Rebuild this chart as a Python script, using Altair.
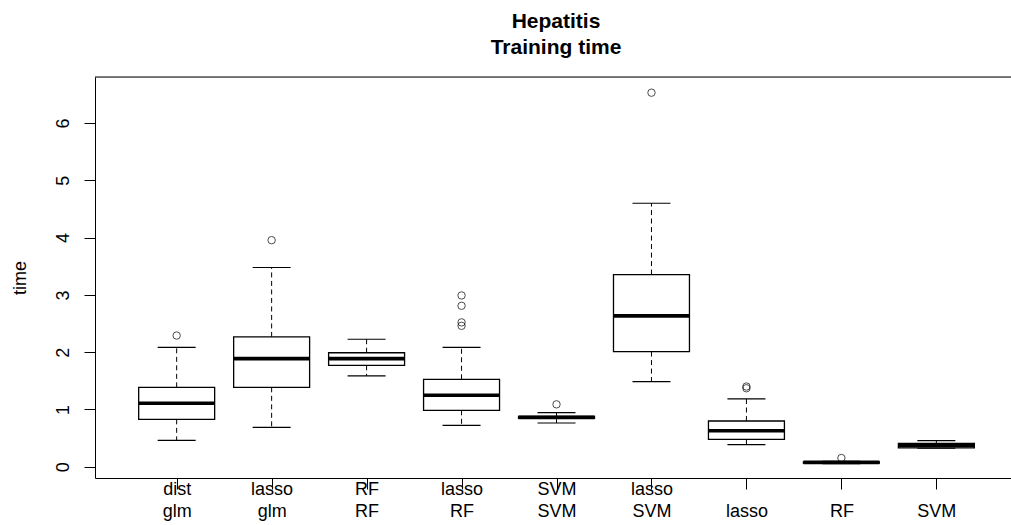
import altair as alt
import pandas as pd

# Box-plot summary of training time per method (Hepatitis data)
label_top = ["dist", "lasso", "RF", "lasso", "SVM", "lasso", "", "", ""]
label_bottom = ["glm", "glm", "RF", "RF", "SVM", "SVM", "lasso", "RF", "SVM"]

lower_whisker = [0.46, 0.687, 1.585, 0.723, 0.763, 1.486, 0.384, 0.055, 0.325]
q1 = [0.827, 1.386, 1.77, 0.985, 0.845, 2.01, 0.477, 0.065, 0.33]
median = [1.107, 1.887, 1.887, 1.247, 0.862, 2.633, 0.629, 0.075, 0.372]
q3 = [1.386, 2.266, 1.99, 1.526, 0.88, 3.355, 0.798, 0.085, 0.405]
upper_whisker = [2.085, 3.478, 2.225, 2.085, 0.944, 4.60, 1.183, 0.095, 0.455]

outlier_group = [1, 2, 4, 4, 4, 4, 5, 6, 7, 7, 8]
outlier_value = [2.29, 3.955, 2.99, 2.81, 2.52, 2.46, 1.089, 6.53, 1.37, 1.40, 0.152]

PLOT_W = 916
PLOT_H = 401
BOX_HALF = 0.4
CAP_HALF = 0.2
FONT = "Liberation Sans"

n = len(median)
pos = list(range(1, n + 1))
boxes = pd.DataFrame({
    "pos": pos,
    "box_l": [p - BOX_HALF for p in pos],
    "box_r": [p + BOX_HALF for p in pos],
    "lo": lower_whisker, "q1": q1, "med": median, "q3": q3, "hi": upper_whisker,
})

whiskers = pd.DataFrame({
    "pos": pos + pos,
    "from": q3 + q1,
    "to": upper_whisker + lower_whisker,
})
caps = pd.DataFrame({
    "cap_l": [p - CAP_HALF for p in pos] * 2,
    "cap_r": [p + CAP_HALF for p in pos] * 2,
    "y": upper_whisker + lower_whisker,
})
outliers = pd.DataFrame({"pos": outlier_group, "value": outlier_value})

# two-line tick labels as arrays, looked up by tick position
pairs = ",".join("['%s','%s']" % (a, b) for a, b in zip(label_top, label_bottom))
label_expr = "[%s][datum.value - 1]" % pairs

xscale = alt.Scale(domain=[0.14, 9.786], nice=False, zero=False)
yscale = alt.Scale(domain=[-0.197, 6.804], nice=False, zero=False)

xaxis = alt.Axis(
    title=None, values=pos, labelExpr=label_expr, grid=False,
    tickSize=11, labelPadding=-9, labelLineHeight=22,
    labelFontSize=18, labelFont=FONT, labelColor="black",
    domainColor="black", tickColor="black", labelFlush=False, labelOverlap=False,
)
yaxis = alt.Axis(
    title="time", values=[0, 1, 2, 3, 4, 5, 6], grid=False,
    tickSize=11, labelPadding=12, labelAngle=270,
    labelFontSize=18, labelFont=FONT, labelColor="black",
    titleFontSize=18, titleFont=FONT, titleFontWeight="normal", titleColor="black",
    titlePadding=25, domainColor="black", tickColor="black",
)


def X(field):
    return alt.X(field, type="quantitative", scale=xscale, axis=xaxis)


def Y(field):
    return alt.Y(field, type="quantitative", scale=yscale, axis=yaxis)


whisker_layer = alt.Chart(whiskers).mark_rule(
    color="black", strokeWidth=1, strokeDash=[5, 3.5]
).encode(x=X("pos"), y=Y("from"), y2="to")

cap_layer = alt.Chart(caps).mark_rule(color="black", strokeWidth=1.2).encode(
    x=X("cap_l"), x2="cap_r", y=Y("y")
)

box_layer = alt.Chart(boxes).mark_rect(
    fill="white", stroke="black", strokeWidth=1.3
).encode(x=X("box_l"), x2="box_r", y=Y("q1"), y2="q3")

median_layer = alt.Chart(boxes).mark_rule(color="black", strokeWidth=3.6).encode(
    x=X("box_l"), x2="box_r", y=Y("med")
)

outlier_layer = alt.Chart(outliers).mark_point(
    shape="circle", filled=False, color="black", size=55, strokeWidth=1
).encode(x=X("pos"), y=Y("value"))

frame_top = alt.Chart(pd.DataFrame({"k": [0]})).mark_rule(
    color="black", strokeWidth=1
).encode(x=alt.value(0), x2=alt.value(PLOT_W), y=alt.value(0))

chart = alt.layer(
    whisker_layer, cap_layer, box_layer, median_layer, outlier_layer, frame_top
).properties(
    width=PLOT_W,
    height=PLOT_H,
    title=alt.TitleParams(
        text=["Hepatitis", "Training time"],
        font=FONT, fontSize=21, fontWeight="bold", color="black",
        anchor="middle", lineHeight=26.7, offset=18, dx=3,
    ),
    padding={"left": 95, "top": 77, "right": 0, "bottom": 47},
    autosize=alt.AutoSizeParams(type="none"),
).configure_view(stroke=None).configure(background="white")

chart.save("out.html", embed_options={"renderer": "svg", "actions": False})
